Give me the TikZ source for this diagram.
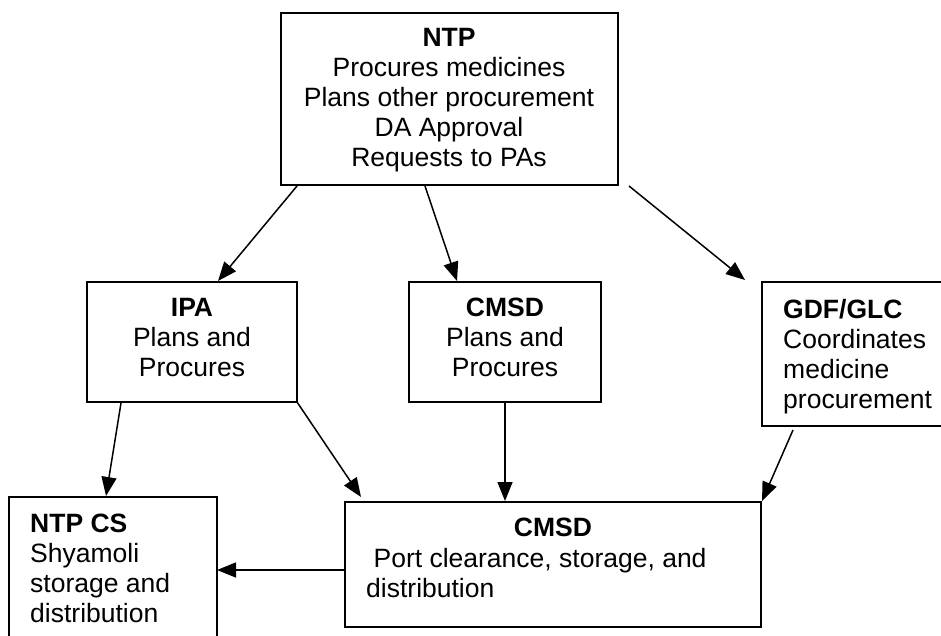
\documentclass[tikz,border=0pt]{standalone}
\usepackage{fontspec}
\setmainfont{Liberation Sans}
\usetikzlibrary{arrows.meta,calc}
\begin{document}
\begin{tikzpicture}[x=1pt,y=-1pt,
  box/.style={draw,line width=1.5pt,inner sep=0pt,outer sep=0pt},
  txt/.style={inner sep=0pt,font=\fontsize{26.5pt}{30pt}\selectfont},
  arr/.style={line width=1.5pt,-{Triangle[length=19pt,width=15pt]}}]
\useasboundingbox (0,0) rectangle (941,635);
\fill[white] (0,0) rectangle (941,635);
% boxes
\node[box,minimum width=337pt,minimum height=172pt] (ntp) at (449.5,99) {};
\node[box,minimum width=210pt,minimum height=120pt] (ipa) at (192,342) {};
\node[box,minimum width=192pt,minimum height=120pt] (cmsdA) at (505,342) {};
\node[box,minimum width=198pt,minimum height=144pt] (gdf) at (861,354) {};
\node[box,minimum width=208pt,minimum height=153pt] (ntpcs) at (113,573.5) {};
\node[box,minimum width=416pt,minimum height=125pt] (cmsdB) at (553,564.5) {};
% texts
\node[txt,align=center,anchor=north] (ntpT) at (449,28)
  {\textbf{NTP}\\Procures medicines\\Plans other procurement\\DA Approval\\Requests to PAs};
\node[txt,align=center,anchor=north] (ipaT) at (192,298) {\textbf{IPA}\\Plans and\\Procures};
\node[txt,align=center,anchor=north] (cmsdAT) at (505,298) {\textbf{CMSD}\\Plans and\\Procures};
\node[txt,align=left,anchor=north west] (gdfT) at (783,299)
  {\textbf{GDF/GLC}\\Coordinates\\medicine\\procurement};
\node[txt,align=left,anchor=north west] (ntpcsT) at (30,514)
  {\textbf{NTP CS}\\Shyamoli\\storage and\\distribution};
\node[txt,anchor=base] (cmsdBT) at (553,536) {\textbf{CMSD}};
\node[txt,align=left,anchor=north west] (cmsdBX) at (366,548)
  {\hspace*{7.4pt}Port clearance, storage, and\\distribution};
% arrows
\draw[arr] ($(ntp.south west)+(16,1)$) -- ($(ipa.north west)+(131,-1)$);
\draw[arr] ($(ntp.south west)+(144,1)$) -- ($(cmsdA.north west)+(48,-1)$);
\draw[arr] ($(ntp.south east)+(11,1)$) -- ($(gdf.north west)+(-17,-2)$);
\draw[arr] ($(ipa.south west)+(34,1)$) -- ($(ntpcs.north west)+(97,-1)$);
\draw[arr] (ipa.south east) -- ($(cmsdB.north west)+(16,-5)$);
\draw[arr] (cmsdA.south) -- ($(cmsdA.south |- cmsdB.north)+(0,-1)$);
\draw[arr] ($(gdf.south west)+(31,4)$) -- ($(cmsdB.north east)+(1,-1)$);
\coordinate (b8) at ($(cmsdB.west)+(0,5.5)$);
\draw[arr] (b8) -- (ntpcs.east |- b8);
\end{tikzpicture}
\end{document}
